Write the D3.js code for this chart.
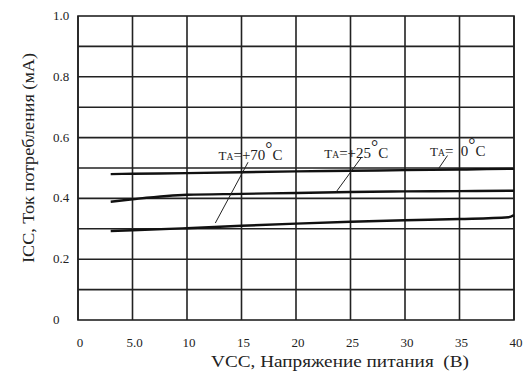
<!DOCTYPE html>
<html>
<head>
<meta charset="utf-8">
<script src="https://cdn.jsdelivr.net/npm/d3@7"></script>
<style>
  body { margin: 0; background: #fff; }
</style>
</head>
<body>
<svg id="drawing_region"></svg>
<script>
// supply voltage, V
const vcc = [3, 5, 10, 15, 20, 25, 30, 35, 39.5, 40];
// supply current, mA, for each ambient temperature
const icc_0 = [0.480, 0.481, 0.483, 0.486, 0.489, 0.491, 0.493, 0.495, 0.497, 0.497];
const icc_25 = [0.389, 0.397, 0.412, 0.415, 0.418, 0.421, 0.423, 0.424, 0.425, 0.425];
const icc_70 = [0.293, 0.295, 0.302, 0.310, 0.317, 0.323, 0.328, 0.332, 0.338, 0.345];

const x_ticks = [0, 5, 10, 15, 20, 25, 30, 35, 40];
const x_tick_labels = ['0', '5.0', '10', '15', '20', '25', '30', '35', '40'];
const y_ticks = [0, 0.2, 0.4, 0.6, 0.8, 1.0];
const y_tick_labels = ['0', '0.2', '0.4', '0.6', '0.8', '1.0'];
const y_grid = [0.1, 0.2, 0.3, 0.4, 0.5, 0.6, 0.7, 0.8, 0.9];

// curve labels: text, anchor of text and leader line (data units)
const labels = [
  { t: '+70', at: [12.9, 0.526], lead: [[15.6, 0.519], [12.6, 0.319]] },
  { t: '+25', at: [22.6, 0.534], lead: [[26.0, 0.535], [23.7, 0.422]] },
  { t: '\u00a0\u00a00', at: [32.3, 0.540], lead: [[33.9, 0.541], [33.1, 0.499]] }
];

const series = [icc_0, icc_25, icc_70];

const config = {
  width: 526,
  height: 371,
  margin: { top: 16, right: 12, bottom: 51, left: 78 }
};

const svg = d3.select('#drawing_region')
  .attr('width', config.width)
  .attr('height', config.height)
  .attr('font-family', '"Liberation Serif", "DejaVu Serif", serif')
  .style('font-family', '"Liberation Serif", "DejaVu Serif", serif');

const chart_width = config.width - config.margin.left - config.margin.right;
const chart_height = config.height - config.margin.top - config.margin.bottom;

const chart = svg.append('g')
  .attr('transform', `translate(${config.margin.left}, ${config.margin.top})`);

const x_scale = d3.scaleLinear().domain([0, 40]).range([0, chart_width]);
const y_scale = d3.scaleLinear().domain([0, 1]).range([chart_height, 0]);

// grid
chart.selectAll('.vgrid')
  .data(x_ticks)
  .enter()
  .append('line')
  .attr('x1', d => x_scale(d)).attr('x2', d => x_scale(d))
  .attr('y1', 0).attr('y2', chart_height)
  .attr('stroke', '#222').attr('stroke-width', 1.6);

chart.selectAll('.hgrid')
  .data(y_grid)
  .enter()
  .append('line')
  .attr('x1', 0).attr('x2', chart_width)
  .attr('y1', d => y_scale(d)).attr('y2', d => y_scale(d))
  .attr('stroke', '#222').attr('stroke-width', 1.6);

chart.append('rect')
  .attr('width', chart_width).attr('height', chart_height)
  .attr('fill', 'none').attr('stroke', '#222').attr('stroke-width', 1.6);

// tick labels
chart.selectAll('.xlab')
  .data(x_ticks)
  .enter()
  .append('text')
  .attr('x', d => x_scale(d) + 2)
  .attr('y', chart_height + 27)
  .attr('text-anchor', 'middle')
  .attr('font-size', 13)
  .attr('fill', '#222')
  .text((d, i) => x_tick_labels[i]);

chart.selectAll('.ylab')
  .data(y_ticks)
  .enter()
  .append('text')
  .attr('x', -25)
  .attr('y', d => y_scale(d) + 4)
  .attr('font-size', 13)
  .attr('fill', '#222')
  .text((d, i) => y_tick_labels[i]);

// axis titles (the original type is a bit wide)
svg.append('text')
  .attr('x', 340).attr('y', 367)
  .attr('text-anchor', 'middle')
  .attr('font-size', 17)
  .attr('textLength', 258)
  .attr('lengthAdjust', 'spacingAndGlyphs')
  .attr('fill', '#222')
  .text('VCC, Напряжение питания\u00a0\u00a0(В)');

svg.append('text')
  .attr('transform', 'translate(34, 158) rotate(-90)')
  .attr('text-anchor', 'middle')
  .attr('font-size', 17)
  .attr('textLength', 210)
  .attr('lengthAdjust', 'spacingAndGlyphs')
  .attr('fill', '#222')
  .text('ICC, Ток потребления (мА)');

// curves
const line = d3.line()
  .x((d, i) => x_scale(vcc[i]))
  .y(d => y_scale(d))
  .curve(d3.curveMonotoneX);

chart.selectAll('.curve')
  .data(series)
  .enter()
  .append('path')
  .attr('d', d => line(d))
  .attr('fill', 'none')
  .attr('stroke', '#111')
  .attr('stroke-width', 2.4);

// leaders and labels
chart.selectAll('.lead')
  .data(labels)
  .enter()
  .append('line')
  .attr('x1', d => x_scale(d.lead[0][0])).attr('y1', d => y_scale(d.lead[0][1]))
  .attr('x2', d => x_scale(d.lead[1][0])).attr('y2', d => y_scale(d.lead[1][1]))
  .attr('stroke', '#222').attr('stroke-width', 1);

const lab = chart.selectAll('.curvelab')
  .data(labels)
  .enter()
  .append('text')
  .attr('x', d => x_scale(d.at[0]))
  .attr('y', d => y_scale(d.at[1]))
  .attr('font-size', 15)
  .attr('fill', '#222');

lab.append('tspan').attr('font-size', 13).text('T');
lab.append('tspan').attr('font-size', 9.5).text('A');
lab.append('tspan').text(d => '=' + d.t);
lab.append('tspan').attr('dy', -5).attr('font-size', 18).text('°');
lab.append('tspan').attr('dy', 5).text('C');
</script>
</body>
</html>
